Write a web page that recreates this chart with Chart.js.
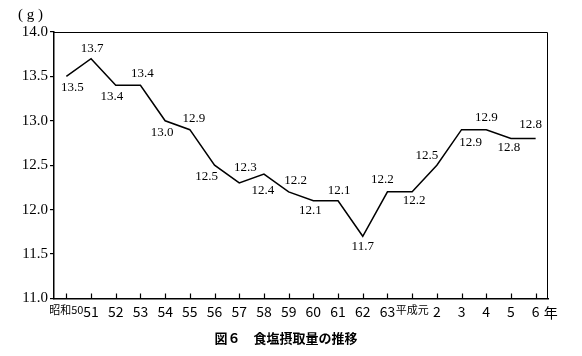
<!DOCTYPE html>
<html>
<head>
<meta charset="utf-8">
<script src="https://cdn.jsdelivr.net/npm/chart.js@4"></script>
<style>
html,body{margin:0;padding:0;background:#fff;}
#wrap{width:582px;height:356px;position:relative;}
</style>
</head>
<body>
<div id="wrap"><canvas id="c" width="582" height="356"></canvas></div>
<script>
// ---- data ----
const categories = ["昭和50","51","52","53","54","55","56","57","58","59","60","61","62","63","平成元","2","3","4","5","6"];
const saltIntake = [13.5,13.7,13.4,13.4,13.0,12.9,12.5,12.3,12.4,12.2,12.1,12.1,11.7,12.2,12.2,12.5,12.9,12.9,12.8,12.8];
const yTickValues = [11.0,11.5,12.0,12.5,13.0,13.5,14.0];
const yUnit = "( g )";
const xUnit = "年";
const titleText = "図６　食塩摂取量の推移";

// label placement (offsets from each point, in px)
const labelOffsets = [
  [6,11],[1,-10],[-4,11],[2,-12],[-3,12],[4,-11],[-8,11],[6,-15],[-1,16],[7,-11],
  [-3,10],[1,-10],[0,10],[-5,-12],[2,9],[-10,-10],[9,13],[0,-12],[-2,9],[-5,-14]
];

const decor = {
  id: 'decor',
  afterLayout(chart) {
    if (chart.titleBlock) { chart.titleBlock.left = 0; chart.titleBlock.right = 572; }
  },
  afterDraw(chart) {
    const ctx = chart.ctx;
    const a = chart.chartArea;
    const xs = chart.scales.x, ys = chart.scales.y;
    ctx.save();
    // box
    ctx.strokeStyle = '#000';
    ctx.lineWidth = 1;
    ctx.beginPath();
    ctx.moveTo(a.left, a.top + 0.5); ctx.lineTo(a.right - 0.5, a.top + 0.5); ctx.lineTo(a.right - 0.5, a.bottom);
    ctx.stroke();
    // inward x ticks
    ctx.lineWidth = 1.2;
    ctx.beginPath();
    for (let i = 0; i < categories.length; i++) {
      const x = Math.round(xs.getPixelForValue(i)) + 0.5;
      ctx.moveTo(x, a.bottom); ctx.lineTo(x, a.bottom - 5);
    }
    ctx.stroke();
    // data labels
    const meta = chart.getDatasetMeta(0);
    ctx.fillStyle = '#000';
    ctx.font = '13px "Liberation Serif", serif';
    ctx.textAlign = 'center';
    ctx.textBaseline = 'middle';
    meta.data.forEach((pt, i) => {
      const o = labelOffsets[i];
      ctx.fillText(saltIntake[i].toFixed(1), pt.x + o[0], pt.y + o[1]);
    });
    // units
    ctx.font = '15px "Liberation Serif", serif';
    ctx.textAlign = 'left';
    ctx.fillText(yUnit, 18, 15);
    ctx.font = '14px "Noto Sans CJK JP", sans-serif';
    const lastX = xs.getPixelForValue(categories.length - 1);
    ctx.fillText(xUnit, lastX + 8, ys.bottom + 14);
    ctx.restore();
  }
};

new Chart(document.getElementById('c'), {
  type: 'line',
  data: {
    labels: categories,
    datasets: [{
      data: saltIntake,
      borderColor: '#000',
      borderWidth: 1.5,
      pointRadius: 0,
      tension: 0,
      fill: false
    }]
  },
  options: {
    responsive: false,
    animation: false,
    devicePixelRatio: 1,
    layout: { padding: { left: 0, right: 34, top: 32, bottom: 0 } },
    plugins: {
      legend: { display: false },
      tooltip: { enabled: false },
      title: {
        display: true,
        position: 'bottom',
        text: titleText,
        color: '#000',
        font: { family: '"Noto Sans CJK JP", sans-serif', size: 13, weight: 'bold', lineHeight: 1.2 },
        padding: { top: 8, bottom: 10 }
      }
    },
    scales: {
      x: {
        type: 'category',
        offset: true,
        grid: { display: true, drawOnChartArea: false, drawTicks: false },
        border: { display: true, color: '#000', width: 1.5 },
        ticks: {
          autoSkip: false,
          maxRotation: 0,
          minRotation: 0,
          padding: 5,
          color: '#000',
          font: (ctx) => {
            const lbl = categories[ctx.index] || '';
            return /[^0-9]/.test(lbl)
              ? { family: '"Noto Sans CJK JP", sans-serif', size: 11 }
              : { family: '"Noto Sans CJK JP", sans-serif', size: 14 };
          }
        },
        afterFit(s) { s.height = 24; }
      },
      y: {
        min: 11, max: 14,
        afterBuildTicks(s) { s.ticks = yTickValues.map(v => ({ value: v })); },
        grid: { display: true, drawOnChartArea: false, drawTicks: true, tickLength: 4, color: '#000', lineWidth: 1.2 },
        border: { display: true, color: '#000', width: 1.5 },
        ticks: {
          padding: 2,
          color: '#000',
          font: { family: '"Liberation Serif", serif', size: 15 },
          callback: (v) => Number(v).toFixed(1)
        },
        afterFit(s) { s.width = 54; }
      }
    }
  },
  plugins: [decor]
});
</script>
</body>
</html>
